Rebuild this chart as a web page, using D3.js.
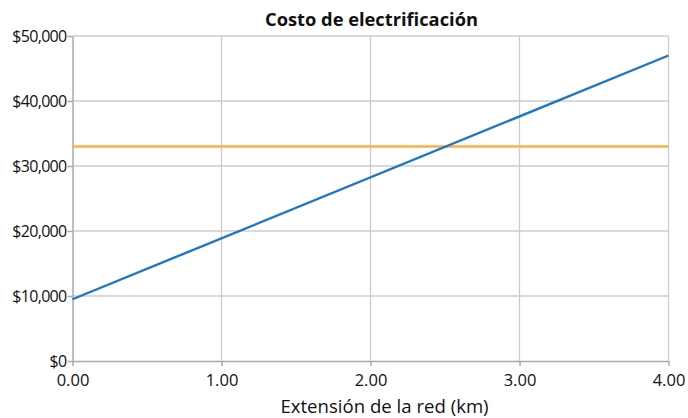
<!DOCTYPE html>
<html><head><meta charset="utf-8">
<script src="https://cdn.jsdelivr.net/npm/d3@7"></script>
<style>body{margin:0;background:#fff}</style>
</head><body>
<svg id="c" width="688" height="418"></svg>
<script>
const title = "Costo de electrificación";
const xTitle = "Extensión de la red (km)";
const xTicks = [0, 1, 2, 3, 4];
const yTicks = [0, 10000, 20000, 30000, 40000, 50000];
const gridX = [0, 4];
const gridCost = [9500, 47000];   // blue line
const altX = [0, 4];
const altCost = [33000, 33000];   // orange line

const svg = d3.select("#c");
const m = {l: 72.5, r: 668.5, t: 36, b: 361};
const x = d3.scaleLinear().domain([0, 4]).range([m.l, m.r]);
const y = d3.scaleLinear().domain([0, 50000]).range([m.b, m.t]);
const font = "'Open Sans', sans-serif";

// gridlines
svg.append("g").selectAll("line").data(yTicks.slice(1)).join("line")
  .attr("x1", m.l).attr("x2", m.r).attr("y1", d => y(d)).attr("y2", d => y(d))
  .attr("stroke", "#cccccc").attr("stroke-width", 1.3);
svg.append("g").selectAll("line").data(xTicks.slice(1)).join("line")
  .attr("x1", d => x(d)).attr("x2", d => x(d)).attr("y1", m.t).attr("y2", m.b)
  .attr("stroke", "#cccccc").attr("stroke-width", 1.3);

// axes
const xa = svg.append("g").attr("transform", `translate(0,${m.b})`)
  .call(d3.axisBottom(x).tickValues(xTicks).tickFormat(d3.format(".2f")).tickSize(5).tickSizeOuter(0));
const ya = svg.append("g").attr("transform", `translate(${m.l},0)`)
  .call(d3.axisLeft(y).tickValues(yTicks).tickFormat(d => "$" + d3.format(",")(d)).tickSize(5).tickSizeOuter(0));
[xa, ya].forEach(a => {
  a.select(".domain").attr("stroke", "#aaaaaa").attr("stroke-width", 1.5);
  a.selectAll(".tick line").attr("stroke", "#aaaaaa").attr("stroke-width", 1.5);
});
xa.selectAll(".tick text").attr("font-family", font).attr("font-size", 16.5).attr("fill", "#111").attr("dy", "1.05em");
ya.selectAll(".tick text").attr("font-family", font).attr("font-size", 16).attr("fill", "#111")
  .attr("x", -6).attr("dy", "0.33em").style("letter-spacing", "-0.7px");

// lines
const line = d3.line().x(d => x(d[0])).y(d => y(d[1]));
svg.append("path").datum(altX.map((d, i) => [d, altCost[i]])).attr("d", line)
  .attr("fill", "none").attr("stroke", "#fbb040").attr("stroke-width", 2.4);
svg.append("path").datum(gridX.map((d, i) => [d, gridCost[i]])).attr("d", line)
  .attr("fill", "none").attr("stroke", "#1f77c4").attr("stroke-width", 2.4);

// titles
svg.append("text").attr("x", 371.5).attr("y", 26).attr("text-anchor", "middle")
  .attr("font-family", font).attr("font-weight", "bold").attr("font-size", 18.3)
  .attr("fill", "#111").text(title);
svg.append("text").attr("x", 384.5).attr("y", 413).attr("text-anchor", "middle")
  .attr("font-family", font).attr("font-size", 18.6)
  .attr("fill", "#111").text(xTitle);
</script>
</body></html>
